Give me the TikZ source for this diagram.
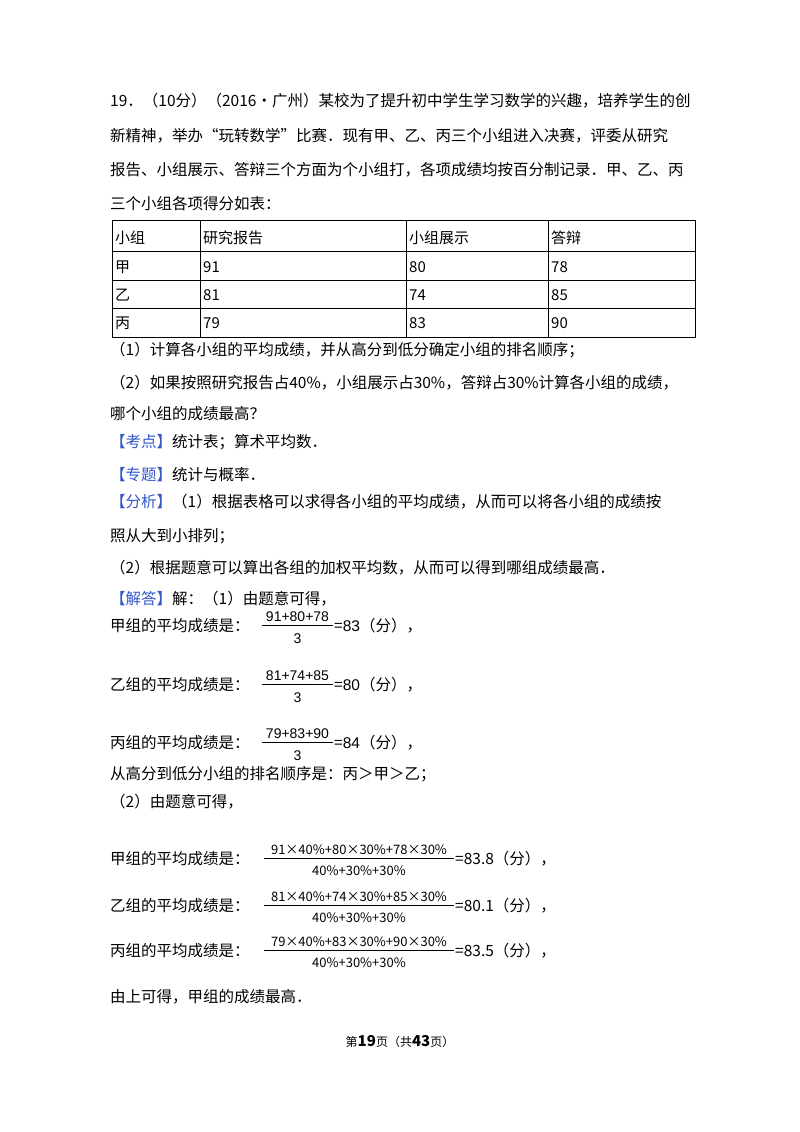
\documentclass[tikz,border=0pt]{standalone}
\usepackage{fontspec}
\setmainfont{Liberation Serif}
\setsansfont{Liberation Sans}
\newfontfamily\cjk{Noto Sans CJK SC}
\begin{document}
\begin{tikzpicture}[x=1pt,y=-1pt,
  t/.style={anchor=base west,inner sep=0pt,font=\cjk\fontsize{15.5}{18}\selectfont},
  cell/.style={anchor=base west,inner sep=0pt,font=\cjk\fontsize{15}{18}\selectfont}]
\definecolor{kb}{HTML}{3355CC}
\fill[white] (0,0) rectangle (800,1132);
\useasboundingbox (0,0) rectangle (800,1132);
\node[t] (l1) at (110,106) {19．（10分）（2016•广州）某校为了提升初中学生学习数学的兴趣，培养学生的创};
\node[t] (l2) at (110,141) {新精神，举办“玩转数学”比赛．现有甲、乙、丙三个小组进入决赛，评委从研究};
\node[t] (l3) at (110,175) {报告、小组展示、答辩三个方面为个小组打，各项成绩均按百分制记录．甲、乙、丙};
\node[t] (l4) at (110,209) {三个小组各项得分如表：};
% table
\draw[line width=0.8pt] (112,220) rectangle (695,337);
\foreach \y in {251,280,308} \draw[line width=0.8pt] (112,\y) -- (695,\y);
\foreach \x in {200,406,548} \draw[line width=0.8pt] (\x,220) -- (\x,337);
\node[cell] (h1) at (115,243) {小组};
\node[cell] (h2) at (203,243) {研究报告};
\node[cell] (h3) at (409,243) {小组展示};
\node[cell] (h4) at (551,243) {答辩};
\node[cell] (a1) at (115,272) {甲};
\node[cell] (a2) at (203,272) {91};
\node[cell] (a3) at (409,272) {80};
\node[cell] (a4) at (551,272) {78};
\node[cell] (b1) at (115,300) {乙};
\node[cell] (b2) at (203,300) {81};
\node[cell] (b3) at (409,300) {74};
\node[cell] (b4) at (551,300) {85};
\node[cell] (c1) at (115,328) {丙};
\node[cell] (c2) at (203,328) {79};
\node[cell] (c3) at (409,328) {83};
\node[cell] (c4) at (551,328) {90};
\node[t] (q1) at (110,355) {（1）计算各小组的平均成绩，并从高分到低分确定小组的排名顺序；};
\node[t] (q2) at (110,388) {（2）如果按照研究报告占40\%，小组展示占30\%，答辩占30\%计算各小组的成绩，};
\node[t] (q3) at (110,419) {哪个小组的成绩最高？};
\node[t] (k1) at (110,447) {\textcolor{kb}{【考点】}统计表；算术平均数．};
\node[t] (k2) at (110,480) {\textcolor{kb}{【专题】}统计与概率．};
\node[t] (k3) at (110,507) {\textcolor{kb}{【分析】}（1）根据表格可以求得各小组的平均成绩，从而可以将各小组的成绩按};
\node[t] (k4) at (110,541) {照从大到小排列；};
\node[t] (k5) at (110,573) {（2）根据题意可以算出各组的加权平均数，从而可以得到哪组成绩最高．};
\node[t] (k6) at (110,604) {\textcolor{kb}{【解答】}解：（1）由题意可得，};
\foreach \n/\yy/\name/\num/\res in {s1/631/甲/91+80+78/83, s2/690/乙/81+74+85/80, s3/748/丙/79+83+90/84}{
  \node[t] (\n) at (110,\yy) {\name 组的平均成绩是：};
  \draw[line width=0.7pt] (262,\yy-6) -- (333,\yy-6);
  \node[anchor=base,inner sep=0pt,font=\fontsize{14}{16}\selectfont\sffamily] at (297.5,\yy-10) {\num};
  \node[anchor=base,inner sep=0pt,font=\fontsize{14}{16}\selectfont\sffamily] at (297.5,\yy+12) {3};
  \node[anchor=base west,inner sep=0pt,font=\cjk\fontsize{15.5}{18}\selectfont] at (334,\yy) {={\sffamily\res}（分），};
}
\node[t] (r1) at (110,779) {从高分到低分小组的排名顺序是：丙＞甲＞乙；};
\node[t] (r2) at (110,807) {（2）由题意可得，};
\foreach \n/\yy/\name/\num/\res in {w1/864/甲/{91×40\%+80×30\%+78×30\%}/83.8, w2/911/乙/{81×40\%+74×30\%+85×30\%}/80.1, w3/956/丙/{79×40\%+83×30\%+90×30\%}/83.5}{
  \node[t] (\n) at (110,\yy) {\name 组的平均成绩是：};
  \draw[line width=0.7pt] (264,\yy-6) -- (454,\yy-6);
  \node[anchor=base,inner sep=0pt,font=\cjk\fontsize{13}{15}\selectfont] at (359,\yy-10) {\num};
  \node[anchor=base,inner sep=0pt,font=\cjk\fontsize{13}{15}\selectfont] at (359,\yy+11) {40\%+30\%+30\%};
  \node[anchor=base west,inner sep=0pt,font=\cjk\fontsize{15.5}{18}\selectfont] at (455,\yy) {=\res（分），};
}
\node[t] (e1) at (110,1002) {由上可得，甲组的成绩最高．};
\node[anchor=base,inner sep=0pt,font=\cjk\fontsize{12}{14}\selectfont] (ft) at (400,1046) {第\textbf{\fontsize{15}{16}\selectfont 19}页（共\textbf{\fontsize{15}{16}\selectfont 43}页）};
\end{tikzpicture}
\end{document}
